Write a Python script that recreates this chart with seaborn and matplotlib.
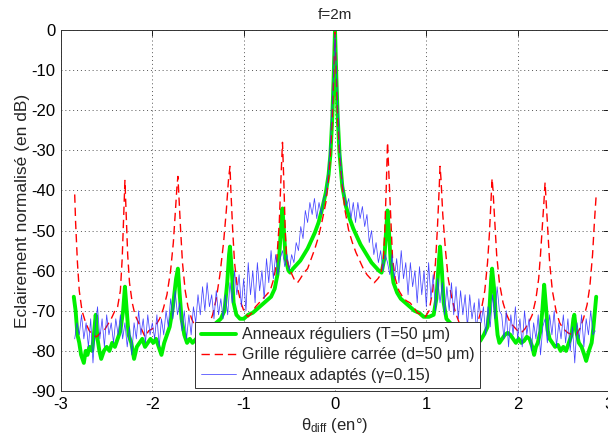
import numpy as np
import pandas as pd
import matplotlib
matplotlib.use("Agg")
import matplotlib.pyplot as plt
import seaborn as sns

# ---------------- data ----------------
green_x = [-2.86, -2.84, -2.82, -2.80, -2.78, -2.75, -2.73, -2.71, -2.69, -2.66, -2.64, -2.62, -2.60,
           -2.58, -2.56, -2.53, -2.50, -2.47, -2.44, -2.41, -2.38, -2.35, -2.32, -2.30, -2.28, -2.26,
           -2.23, -2.20, -2.17, -2.14, -2.11, -2.08, -2.05, -2.02, -1.99, -1.96, -1.93, -1.90, -1.87,
           -1.84, -1.81, -1.78, -1.76, -1.74, -1.72, -1.70, -1.68, -1.65, -1.62, -1.59, -1.56, -1.52,
           -1.48, -1.44, -1.40, -1.35, -1.30, -1.25, -1.21, -1.18, -1.16, -1.15, -1.13, -1.11, -1.08,
           -1.04, -1.00, -0.95, -0.90, -0.85, -0.80, -0.75, -0.70, -0.66, -0.63, -0.61, -0.59, -0.575,
           -0.56, -0.54, -0.51, -0.49, -0.46, -0.42, -0.38, -0.34, -0.30, -0.26, -0.22, -0.18, -0.14,
           -0.10, -0.07, -0.05, -0.03, -0.015, 0.0,
           0.015, 0.03, 0.05, 0.08, 0.12, 0.16, 0.20, 0.24, 0.28, 0.32, 0.36, 0.40, 0.44, 0.48, 0.51,
           0.54, 0.56, 0.575, 0.59, 0.61, 0.64, 0.68, 0.72, 0.77, 0.82, 0.87, 0.92, 0.97, 1.03, 1.08,
           1.11, 1.13, 1.15, 1.17, 1.19, 1.22, 1.26, 1.30, 1.35, 1.40, 1.45, 1.50, 1.55, 1.59, 1.63,
           1.67, 1.69, 1.71, 1.72, 1.74, 1.76, 1.78, 1.80, 1.83, 1.86, 1.89, 1.92, 1.95, 1.98, 2.01,
           2.04, 2.07, 2.10, 2.13, 2.16, 2.18, 2.20, 2.22, 2.25, 2.27, 2.29, 2.31, 2.33, 2.35, 2.38,
           2.41, 2.44, 2.47, 2.50, 2.53, 2.56, 2.59, 2.61, 2.62, 2.64, 2.67, 2.70, 2.73, 2.75, 2.78,
           2.81, 2.83, 2.85, 2.86]
green_y = [-66.5, -70, -76, -78, -81, -83, -80, -81, -79, -80, -76, -71, -77,
           -80, -82, -80, -79, -80, -78, -79, -77, -75, -70, -64, -70, -76,
           -78, -82, -79, -78, -77, -79, -78, -77, -78, -77, -79, -81, -78,
           -76, -74, -70, -66, -62, -59.5, -66, -72, -76, -78, -77, -78, -77,
           -76, -75, -75, -74, -73, -72, -70, -63, -56, -54, -60, -68, -71,
           -72, -72, -71, -70.5, -69.5, -68.5, -67.5, -66.5, -64.5, -61, -56, -49, -44.5,
           -50, -57, -60, -60.5, -59.5, -58.5, -57.5, -56, -54.5, -52.5, -50.5, -48, -44.5,
           -40.5, -36, -31, -22, -12, 0,
           -12, -22, -31, -39, -44, -47, -49.5, -51.5, -53.5, -55, -56.5, -58, -59, -60, -60.5,
           -57, -50, -45, -50, -58, -63, -65.5, -67, -68, -69, -70, -70.5, -71.5, -71.5, -71,
           -67, -60, -54, -60, -68, -72, -73, -74, -75, -76, -76, -77, -77, -77.5, -76,
           -74, -70, -62, -59.5, -64, -71, -76, -78, -77, -76, -75.5, -76, -77, -78, -77,
           -78, -77.5, -76.5, -77, -79, -81, -79, -78, -75, -70, -63.5, -69, -75, -77, -78,
           -79, -78.5, -80, -79, -80, -78, -76, -72, -71, -75, -78, -79, -81, -82.5, -80,
           -78, -74, -69, -66.5]

red_x = [-2.85, -2.84, -2.82, -2.80, -2.77, -2.73, -2.69, -2.65, -2.61, -2.57, -2.53, -2.49, -2.45,
         -2.41, -2.38, -2.35, -2.33, -2.315, -2.30, -2.285, -2.27, -2.25, -2.22, -2.19, -2.15, -2.11,
         -2.08, -2.04, -2.00, -1.96, -1.92, -1.88, -1.84, -1.80, -1.77, -1.75, -1.73, -1.72, -1.71,
         -1.69, -1.67, -1.64, -1.61, -1.57, -1.53, -1.48, -1.43, -1.38, -1.34, -1.30, -1.26, -1.22,
         -1.19, -1.165, -1.15, -1.14, -1.12, -1.10, -1.07, -1.03, -0.99, -0.95, -0.91, -0.87, -0.83,
         -0.79, -0.75, -0.71, -0.67, -0.64, -0.61, -0.59, -0.575, -0.56, -0.545, -0.53, -0.50, -0.47,
         -0.44, -0.41, -0.38, -0.34, -0.30, -0.26, -0.22, -0.18, -0.14, -0.10, -0.07, -0.05, -0.03,
         -0.015, 0.0,
         0.015, 0.03, 0.05, 0.08, 0.11, 0.15, 0.19, 0.23, 0.27, 0.31, 0.35, 0.39, 0.43, 0.47, 0.50,
         0.53, 0.545, 0.56, 0.575, 0.59, 0.61, 0.63, 0.66, 0.70, 0.74, 0.78, 0.82, 0.86, 0.90, 0.95,
         0.99, 1.03, 1.07, 1.10, 1.12, 1.14, 1.15, 1.16, 1.18, 1.21, 1.24, 1.28, 1.32, 1.36, 1.41,
         1.46, 1.51, 1.56, 1.60, 1.64, 1.67, 1.69, 1.71, 1.72, 1.73, 1.75, 1.77, 1.80, 1.84, 1.88,
         1.92, 1.96, 2.00, 2.04, 2.08, 2.12, 2.16, 2.20, 2.23, 2.25, 2.27, 2.29, 2.30, 2.31, 2.33,
         2.35, 2.38, 2.42, 2.46, 2.50, 2.55, 2.60, 2.64, 2.68, 2.72, 2.76, 2.79, 2.82, 2.84, 2.86]
red_y = [-41, -48, -58, -65, -70, -73, -75, -76, -76.5, -75.5, -75, -73.5, -72,
         -70, -69, -65, -57, -47, -37.5, -47, -56, -63, -68, -71, -73, -75,
         -76.5, -75, -74.5, -73.5, -72, -69.5, -66, -60, -53, -46, -39, -36.5, -41,
         -50, -58, -65, -69, -72, -74, -75.5, -75, -73.5, -71, -67, -61, -53,
         -45, -37, -34, -40, -50, -58, -64, -68, -70.5, -71.5, -70.5, -69, -68,
         -67, -66, -65, -62, -58, -48, -36, -28, -38, -50, -57, -59.5, -61,
         -62.5, -63, -62, -60.5, -59.5, -57, -54.5, -51.5, -47.5, -43, -37, -31, -22,
         -12, -0.5,
         -12, -22, -31, -39, -45, -50, -53, -55.5, -57.5, -59.5, -61, -62, -63, -62, -61,
         -57, -50, -40, -28, -36, -47, -57, -62, -65, -66.5, -67.5, -68, -69, -70.5, -71,
         -71.5, -70, -65, -58, -50, -40, -34, -37, -46, -55, -62, -67, -70.5, -73, -74.5,
         -75.5, -75, -73, -70, -65, -58, -51, -42, -37, -40, -48, -56, -63, -68, -71,
         -73, -74, -75, -75.5, -74.5, -73, -71, -67, -62, -56, -49, -42, -38, -42, -50,
         -58, -65, -70, -73, -74.5, -75.5, -76, -76, -74.5, -72, -68.5, -64, -56, -48, -41]

# blue series sampled regularly from -2.85 to 2.85
blue_x_start, blue_x_end = -2.85, 2.85
blue_y = [-77, -73, -76, -71, -77, -73, -79, -72, -83, -74,
          -69, -77, -72, -79, -71, -76, -73, -78, -72, -76,
          -71, -77, -73, -79, -74, -81, -73, -77, -70, -76,
          -72, -78, -71, -76, -73, -77, -71, -79, -72, -76,
          -70, -74, -67, -72, -65, -71, -68, -75, -70, -77,
          -71, -76, -69, -73, -66, -71, -64, -70, -63, -69,
          -66, -72, -65, -71, -67, -72, -66, -71, -63, -68,
          -60, -66, -61, -69, -62, -70, -58, -66, -60, -68,
          -58, -65, -60, -67, -57, -63, -55, -62, -56, -61,
          -57, -55, -59, -56, -60, -56, -58, -53, -55, -49,
          -52, -45, -48, -43, -46, -42, -47, -43, -46, -42,
          -41, -36, -28, -16, -1, -16, -29, -37, -41, -44,
          -42, -47, -43, -48, -43, -47, -44, -49, -46, -53,
          -50, -56, -53, -58, -55, -60, -56, -58, -61, -56,
          -62, -57, -63, -55, -62, -58, -66, -58, -64, -60,
          -68, -59, -66, -60, -69, -58, -67, -61, -70, -62,
          -68, -63, -71, -64, -70, -63, -71, -64, -72, -65,
          -71, -66, -74, -66, -72, -68, -75, -67, -73, -69,
          -76, -69, -74, -66, -72, -64, -70, -71, -77, -70,
          -79, -71, -76, -69, -77, -72, -79, -70, -76, -72,
          -80, -73, -77, -71, -81, -74, -72, -78, -71, -76,
          -70, -79, -73, -77, -71, -78, -72, -80, -74, -83,
          -73, -77, -71, -79, -72, -76, -70, -76, -75]

labels = ["Anneaux réguliers (T=50 μm)",
          "Grille régulière carrée (d=50 μm)",
          "Anneaux adaptés (γ=0.15)"]
title = "f=2m"
xlabel = "θ$_{\\mathrm{diff}}$ (en°)"
ylabel = "Eclairement normalisé (en dB)"
xticks = [-3, -2, -1, 0, 1, 2, 3]
yticks = [0, -10, -20, -30, -40, -50, -60, -70, -80, -90]

# ---------------- plotting ----------------
sns.set_style("white")
plt.rcParams["font.family"] = ["Liberation Sans", "DejaVu Sans"]
plt.rcParams["mathtext.fontset"] = "custom"
plt.rcParams["mathtext.rm"] = "Liberation Sans"
plt.rcParams["mathtext.it"] = "Liberation Sans:italic"

blue_x = np.linspace(blue_x_start, blue_x_end, len(blue_y))
df_g = pd.DataFrame({"x": green_x, "y": green_y})
df_r = pd.DataFrame({"x": red_x, "y": red_y})
df_b = pd.DataFrame({"x": blue_x, "y": blue_y})

fig = plt.figure(figsize=(6.08, 4.43), dpi=100)
ax = fig.add_axes([61 / 608, 1 - 391 / 443, 548 / 608, 361 / 443])

sns.lineplot(data=df_g, x="x", y="y", ax=ax, sort=False, estimator=None,
             color="#00f000", lw=2.8, label=labels[0], zorder=2)
sns.lineplot(data=df_r, x="x", y="y", ax=ax, sort=False, estimator=None,
             color="#ff0000", lw=1.0, label=labels[1], zorder=3)
ax.lines[-1].set_dashes((6, 3.5))
sns.lineplot(data=df_b, x="x", y="y", ax=ax, sort=False, estimator=None,
             color="#3030ff", lw=0.55, alpha=0.9, label=labels[2], zorder=4)

ax.set_xlim(-3, 3)
ax.set_ylim(-90, 0)
ax.set_xticks(xticks)
ax.set_yticks(yticks)
ax.set_xticklabels([str(t) for t in xticks])
ax.set_yticklabels([str(t) for t in yticks])
ax.grid(True, color="#555555", linestyle=(0, (1, 3)), linewidth=0.7)
ax.tick_params(direction="in", length=4, width=0.6, labelsize=12, top=True, right=True,
               colors="black", pad=4)
for s in ax.spines.values():
    s.set_color("#333333")
    s.set_linewidth(0.7)

ax.set_title(title, fontsize=11, pad=8)
ax.set_xlabel(xlabel, fontsize=12, labelpad=3)
ax.set_ylabel(ylabel, fontsize=12.5, labelpad=1)

leg = ax.legend(loc="lower left", bbox_to_anchor=((195 - 61) / 548, 0.008),
                fontsize=11.5, frameon=True, fancybox=False, framealpha=1,
                edgecolor="#333333", handlelength=2.2, handletextpad=0.4,
                borderpad=0.35, labelspacing=0.32, borderaxespad=0)
leg.get_frame().set_linewidth(0.7)

fig.savefig("out.png", dpi=100)
